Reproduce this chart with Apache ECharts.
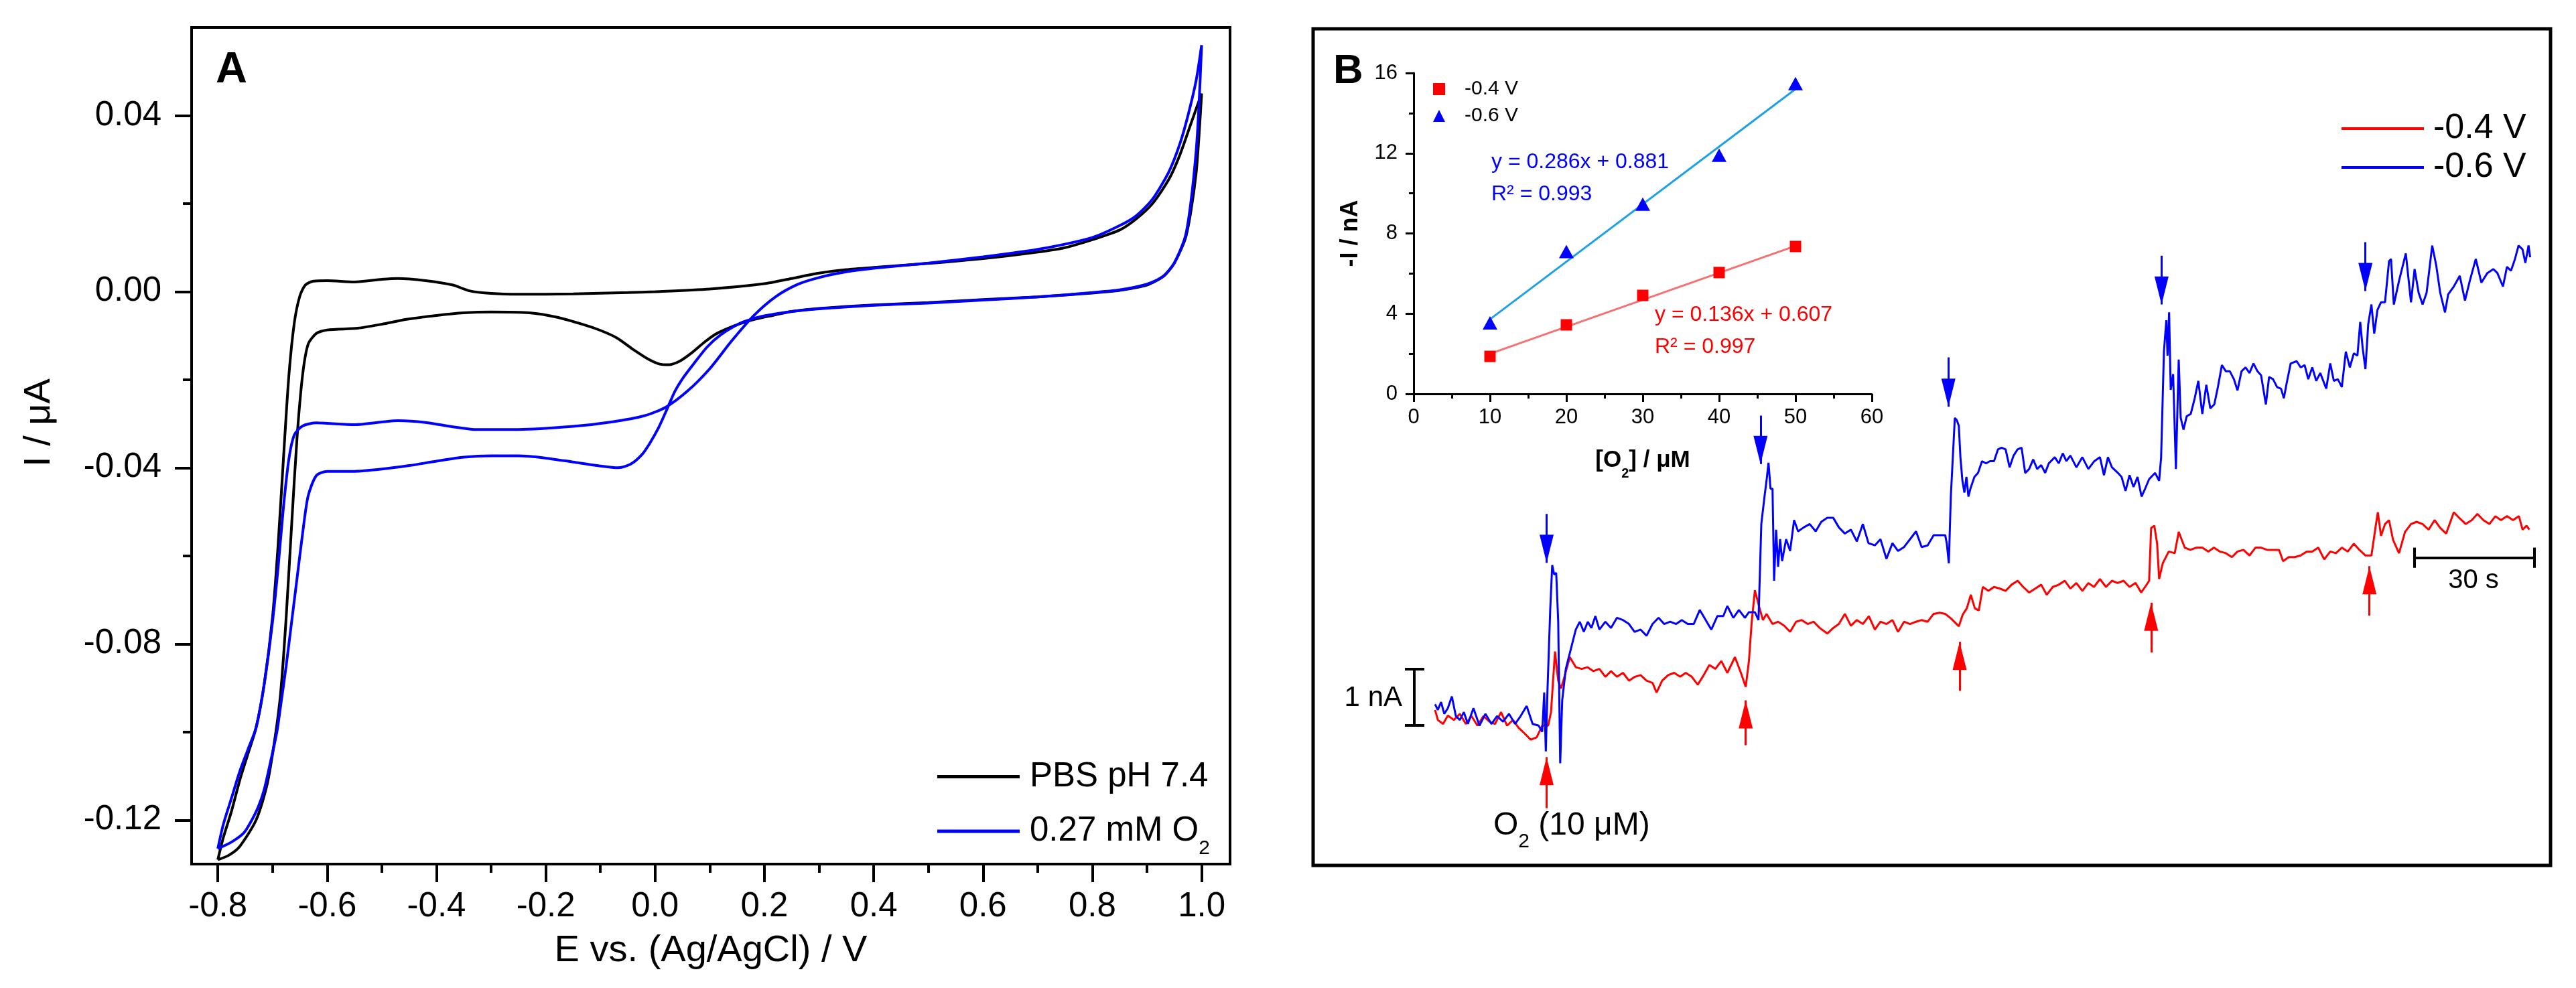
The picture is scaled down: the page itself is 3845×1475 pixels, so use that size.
<!DOCTYPE html>
<html>
<head>
<meta charset="utf-8">
<script src="https://cdn.jsdelivr.net/npm/echarts@6.0.0/dist/echarts.min.js"></script>
<style>
  html, body { margin: 0; padding: 0; background: #fff; }
  #container { width: 3845px; height: 1475px; }
</style>
</head>
<body>
<div id="container"></div>
<script>
// ---- panel A: cyclic voltammograms (E / V, I / uA) ----
var cvPbsForward = [[-0.80,-0.129],[-0.79,-0.124],[-0.775,-0.118],[-0.76,-0.111],[-0.745,-0.105],[-0.73,-0.099],[-0.715,-0.089],[-0.70,-0.074],[-0.69,-0.058],[-0.68,-0.038],[-0.67,-0.019],[-0.66,-0.007],[-0.65,-0.001],[-0.64,0.0015],[-0.625,0.0024],[-0.60,0.0025],[-0.55,0.0022],[-0.50,0.0028],[-0.47,0.003],[-0.42,0.0025],[-0.37,0.0015],[-0.34,0.0002],[-0.30,-0.0004],[-0.25,-0.0006],[-0.15,-0.0005],[-0.05,-0.0002],[0.0,0.0],[0.1,0.0006],[0.2,0.0018],[0.25,0.003],[0.3,0.0042],[0.35,0.005],[0.4,0.0055],[0.5,0.0064],[0.6,0.0075],[0.7,0.009],[0.75,0.010],[0.8,0.0118],[0.85,0.014],[0.88,0.0165],[0.91,0.020],[0.94,0.0255],[0.96,0.031],[0.98,0.038],[1.0,0.045]];
var cvPbsReverse = [[1.0,0.045],[0.995,0.035],[0.99,0.027],[0.98,0.018],[0.97,0.012],[0.95,0.0065],[0.93,0.0035],[0.9,0.0015],[0.85,0.0003],[0.8,-0.0003],[0.7,-0.0012],[0.6,-0.0018],[0.5,-0.0025],[0.4,-0.003],[0.3,-0.0038],[0.25,-0.0045],[0.215,-0.0054],[0.185,-0.0062],[0.155,-0.0073],[0.13,-0.0085],[0.11,-0.0097],[0.09,-0.0115],[0.066,-0.014],[0.045,-0.0158],[0.025,-0.0166],[0.01,-0.0165],[-0.01,-0.0155],[-0.038,-0.0133],[-0.07,-0.0105],[-0.1,-0.0088],[-0.128,-0.0076],[-0.18,-0.0058],[-0.23,-0.0048],[-0.3,-0.0046],[-0.35,-0.0048],[-0.4,-0.0054],[-0.455,-0.0063],[-0.5,-0.0074],[-0.544,-0.0083],[-0.6,-0.0087],[-0.62,-0.0095],[-0.635,-0.012],[-0.645,-0.019],[-0.655,-0.033],[-0.665,-0.053],[-0.675,-0.074],[-0.685,-0.091],[-0.695,-0.101],[-0.71,-0.112],[-0.73,-0.12],[-0.76,-0.126],[-0.78,-0.128],[-0.80,-0.129]];
var cvO2Forward = [[-0.80,-0.1265],[-0.79,-0.121],[-0.775,-0.115],[-0.76,-0.109],[-0.745,-0.104],[-0.73,-0.099],[-0.715,-0.089],[-0.70,-0.075],[-0.69,-0.063],[-0.68,-0.049],[-0.67,-0.038],[-0.66,-0.0325],[-0.645,-0.0305],[-0.62,-0.0298],[-0.6,-0.0299],[-0.55,-0.0302],[-0.5,-0.0296],[-0.47,-0.0293],[-0.42,-0.0297],[-0.37,-0.0307],[-0.33,-0.0313],[-0.25,-0.0313],[-0.15,-0.0306],[-0.08,-0.0296],[-0.02,-0.0282],[0.02,-0.0262],[0.06,-0.0225],[0.1,-0.0175],[0.14,-0.0112],[0.18,-0.0055],[0.22,-0.0012],[0.26,0.0016],[0.3,0.0032],[0.35,0.0045],[0.4,0.0053],[0.5,0.0065],[0.6,0.0079],[0.7,0.0096],[0.8,0.0123],[0.85,0.015],[0.88,0.0172],[0.91,0.021],[0.94,0.0272],[0.96,0.0335],[0.975,0.040],[0.99,0.048],[1.0,0.056]];
var cvO2Reverse = [[1.0,0.056],[0.995,0.042],[0.99,0.032],[0.98,0.02],[0.97,0.0125],[0.95,0.0065],[0.93,0.0035],[0.9,0.0017],[0.85,0.0004],[0.8,-0.0002],[0.7,-0.0012],[0.6,-0.0019],[0.5,-0.0026],[0.4,-0.0031],[0.3,-0.0039],[0.25,-0.0045],[0.2,-0.0055],[0.175,-0.0063],[0.155,-0.0072],[0.12,-0.0098],[0.095,-0.0126],[0.07,-0.0165],[0.05,-0.0198],[0.036,-0.0227],[0.02,-0.0272],[0.006,-0.031],[-0.01,-0.0345],[-0.024,-0.037],[-0.045,-0.0392],[-0.068,-0.040],[-0.1,-0.0396],[-0.15,-0.0387],[-0.2,-0.0378],[-0.25,-0.0373],[-0.3,-0.0373],[-0.35,-0.0376],[-0.4,-0.0385],[-0.45,-0.0395],[-0.5,-0.0403],[-0.55,-0.0408],[-0.6,-0.0408],[-0.62,-0.0418],[-0.635,-0.0465],[-0.645,-0.055],[-0.655,-0.065],[-0.665,-0.075],[-0.675,-0.085],[-0.685,-0.094],[-0.692,-0.1],[-0.704,-0.107],[-0.715,-0.113],[-0.726,-0.117],[-0.74,-0.1205],[-0.753,-0.123],[-0.775,-0.125],[-0.80,-0.1265]];

var xMajorTicks = [-0.8,-0.6,-0.4,-0.2,0,0.2,0.4,0.6,0.8,1.0];
var xMinorTicks = [-0.7,-0.5,-0.3,-0.1,0.1,0.3,0.5,0.7,0.9];
var yMajorTicks = [-0.12,-0.08,-0.04,0,0.04];
var yMinorTicks = [-0.1,-0.06,-0.02,0.02];

// ---- panel B: amperometric traces (t / s, -I / nA, relative) ----
var redTrace = [[0,0.27],[0.7,0.09],[2,0.02],[3.2,0.17],[4.7,0.09],[6.2,0.2],[7.7,0.02],[9.1,0.16],[10.6,-0.01],[12.1,0.16],[13.6,0.06],[15,0.02],[16.5,0.23],[18,-0.01],[19.5,0.09],[20.9,-0.05],[22.4,-0.15],[23.9,-0.26],[25.4,-0.22],[26.8,-0.01],[28.3,-0.01],[29,0.23],[30,1.31],[30.8,0.79],[31.5,0.65],[32.2,0.82],[33.7,1.21],[35.2,1.03],[36.7,1.0],[38.1,1.03],[39.6,0.96],[41.1,1.0],[42.6,0.86],[44,0.96],[45.5,0.86],[47,0.93],[48.5,0.79],[50,0.86],[51.4,0.89],[52.9,0.79],[54.4,0.75],[55.4,0.58],[56.8,0.79],[58.3,0.89],[59.8,0.93],[61.3,0.86],[62.7,0.93],[64.2,0.86],[65.7,0.72],[67.2,0.89],[68.6,1.07],[70.1,1.0],[71.6,1.14],[73.1,0.93],[75,1.21],[76.5,0.93],[77.7,0.68],[78.5,1.14],[79.2,1.84],[80,2.4],[81,2.12],[82,1.87],[82.9,1.98],[84.4,1.8],[85.8,1.84],[87.3,1.77],[88.8,1.66],[90.3,1.84],[91.7,1.87],[93.2,1.8],[94.7,1.84],[96.2,1.73],[98.1,1.63],[99.6,1.73],[101,1.8],[102.5,1.98],[104,1.77],[105.5,1.87],[107,1.8],[108.5,1.94],[110,1.7],[111.4,1.84],[112.9,1.8],[114.4,1.87],[115.8,1.66],[117.3,1.84],[118.8,1.8],[120.3,1.84],[121.7,1.87],[123.2,1.84],[124.7,1.98],[126.2,2.0],[127.6,1.98],[129,1.9],[131,1.76],[132,1.97],[133,2.08],[134,2.32],[135,2.08],[136,2.04],[137,2.46],[138.4,2.39],[139.8,2.46],[141.3,2.43],[142.7,2.39],[144.2,2.5],[145.7,2.57],[147.1,2.46],[148.6,2.36],[150.1,2.43],[151.6,2.5],[153,2.32],[154.5,2.46],[156,2.5],[157.5,2.57],[158.9,2.43],[160.4,2.53],[161.9,2.39],[163.4,2.53],[164.8,2.46],[166.3,2.6],[167.8,2.46],[169.3,2.57],[170.7,2.53],[172.2,2.57],[173.7,2.46],[175.2,2.53],[176.6,2.36],[177.6,2.46],[178.6,2.57],[179.1,3.51],[179.9,3.55],[180.6,3.23],[181.1,2.6],[182,2.88],[183.5,3.09],[185,3.06],[186,3.44],[187.5,3.16],[188.9,3.12],[190.4,3.16],[191.9,3.16],[193.4,3.09],[194.8,3.16],[196.3,3.09],[197.8,3.06],[199.3,2.99],[200.7,3.09],[202.2,3.12],[203.7,3.02],[205.2,3.16],[206.6,3.16],[208.1,3.12],[209.6,3.12],[211.1,3.12],[212.1,2.92],[213.5,2.99],[215,2.99],[216.5,3.02],[218,3.09],[219.4,3.09],[220.9,3.16],[222.4,2.95],[223.9,3.09],[225.3,3.06],[226.8,3.16],[228.3,3.09],[229.8,3.23],[231.2,3.12],[232.7,3.02],[234.2,3.02],[235.2,3.51],[235.8,3.79],[236.6,3.37],[237.6,3.58],[238.6,3.65],[239.6,3.3],[241.1,3.06],[242.6,3.44],[244.1,3.58],[245.5,3.62],[247,3.58],[248.5,3.48],[250,3.65],[251.4,3.51],[252.9,3.41],[254.8,3.79],[256.3,3.68],[257.8,3.58],[259.3,3.65],[260.7,3.76],[262.2,3.65],[263.7,3.58],[265.2,3.72],[266.6,3.65],[268.1,3.72],[269.6,3.65],[271.1,3.72],[272,3.48],[273,3.55],[273.7,3.48]];
var blueTrace = [[0,0.37],[0.7,0.27],[1.5,0.41],[2.3,0.2],[3.2,0.3],[4.2,0.51],[5.2,0.16],[6.2,0.09],[7.2,0.23],[8.2,0.02],[9.6,0.3],[11.1,-0.01],[12.6,0.2],[14.1,0.02],[15.5,0.16],[17,0.06],[18.5,0.2],[20,0.02],[21.4,0.16],[22.9,0.34],[24.4,0.02],[25.9,-0.01],[26.8,-0.12],[27.3,0.58],[27.7,-0.47],[28.1,0.58],[28.8,2.05],[29.3,2.85],[29.8,2.68],[30.3,2.71],[30.8,1.84],[31.3,-0.68],[31.8,0.44],[32.7,1.0],[33.7,1.28],[35.2,1.7],[36.2,1.84],[37.2,1.66],[38.2,1.84],[39.1,1.73],[40.1,1.94],[41.1,1.7],[42.6,1.84],[44,1.73],[45.5,1.91],[47,1.87],[48.5,1.8],[49.9,1.66],[51.4,1.7],[52.9,1.59],[54.4,1.8],[55.9,1.91],[57.3,1.8],[58.8,1.84],[60.3,1.8],[61.7,1.87],[63.2,1.8],[64.7,1.8],[66.2,2.05],[67.7,1.87],[69.1,1.7],[70.6,1.94],[72.1,1.94],[73.1,2.12],[74.6,1.91],[76,2.05],[77.5,1.91],[78.5,2.01],[80,2.01],[80.9,1.87],[81.6,3.58],[82.4,4.07],[82.9,4.35],[83.4,4.67],[83.9,4.21],[84.4,4.21],[84.8,2.57],[85.3,3.48],[85.8,2.82],[86.3,3.31],[86.8,2.92],[87.8,3.31],[88.8,3.1],[89.8,3.65],[90.8,3.45],[92.2,3.52],[93.7,3.58],[95.2,3.45],[96.6,3.62],[98.1,3.69],[99.6,3.69],[101,3.52],[102.5,3.41],[104,3.48],[105.5,3.27],[107,3.58],[108.4,3.24],[110,3.2],[111.4,3.31],[112.9,2.96],[114.4,3.24],[115.8,3.1],[117.3,3.17],[118.8,3.31],[120.3,3.45],[121.7,3.17],[123.2,3.2],[124.7,3.38],[126.2,3.38],[127.6,3.38],[128,3.23],[128.5,2.88],[129,4.07],[129.5,4.77],[130,5.47],[130.5,5.43],[131,5.33],[131.4,4.77],[131.9,4.35],[132.4,4.14],[132.9,4.42],[133.4,4.07],[133.9,4.21],[134.9,4.42],[135.8,4.49],[136.8,4.7],[137.8,4.66],[138.8,4.7],[139.8,4.7],[140.8,4.91],[141.7,4.94],[142.7,4.91],[143.7,4.59],[144.7,4.8],[145.7,4.91],[146.7,4.94],[147.6,4.49],[148.6,4.56],[149.6,4.73],[150.6,4.56],[151.6,4.63],[152.6,4.49],[153.5,4.66],[155,4.77],[156,4.66],[157,4.84],[157.9,4.7],[158.9,4.8],[160.4,4.59],[161.9,4.77],[163.4,4.56],[164.9,4.7],[166.3,4.77],[167.3,4.45],[168.3,4.77],[169.3,4.59],[170.8,4.49],[171.7,4.42],[172.7,4.17],[173.7,4.45],[174.7,4.24],[175.7,4.42],[176.7,4.07],[177.6,4.21],[178.6,4.38],[180.1,4.49],[181.1,4.35],[181.6,4.77],[182.3,6.65],[182.9,7.21],[183.2,6.58],[183.6,7.35],[184,5.97],[184.6,6.25],[185.3,4.56],[186,6.51],[186.5,5.47],[187.2,5.26],[188,5.5],[189,5.54],[190,5.82],[190.9,6.13],[191.9,5.54],[192.9,6.06],[193.9,5.64],[194.9,5.71],[195.8,6.02],[196.8,6.41],[197.8,6.3],[198.8,6.3],[199.8,6.16],[200.7,5.96],[201.7,6.3],[202.7,6.37],[203.7,6.27],[204.7,6.44],[205.7,6.3],[206.6,6.23],[207.8,5.71],[208.6,6.2],[209.6,6.16],[210.6,6.02],[211.6,5.99],[212.3,5.82],[213,6.09],[214,6.44],[215.5,6.48],[216.5,6.37],[217.5,6.41],[218.4,6.16],[219.4,6.37],[220.4,6.13],[221.4,6.27],[222.9,5.99],[223.9,6.44],[224.8,6.13],[225.8,6.16],[226.8,6.02],[227.8,6.65],[228.8,6.37],[229.8,6.62],[230.7,6.58],[231.4,7.18],[232,6.72],[232.7,6.34],[233.4,7.14],[234.2,7.49],[234.9,6.97],[235.7,7.39],[236.6,7.53],[237.6,7.53],[238.6,8.26],[239.1,8.3],[239.8,7.49],[241.1,7.91],[242.8,8.4],[244.1,7.53],[245,8.12],[246,7.7],[247,7.49],[248,7.7],[249.4,8.54],[250.4,8.19],[251.4,7.7],[252.6,7.35],[253.4,7.67],[254.8,7.81],[256.3,8.0],[257.6,7.56],[258.8,7.91],[260.3,8.3],[261.7,7.88],[263.2,8.05],[264.7,8.12],[265.7,8.05],[267.1,7.81],[268.1,8.16],[269.1,8.09],[270.1,8.3],[271,8.54],[272,8.47],[272.7,8.23],[273.5,8.54],[273.9,8.33]];

// injection arrows (t / s, nA)
var redArrowT = [27.9, 77.7, 131.2, 179.1, 233.7];
var redArrowTip = [-0.57, 0.44, 1.48, 2.18, 2.83];
var redArrowTail = [-1.48, -0.36, 0.61, 1.29, 1.95];
var blueArrowT = [27.9, 81.4, 128.4, 181.7, 232.7];
var blueArrowTail = [3.76, 5.51, 6.55, 8.36, 8.6];
var blueArrowTip = [2.89, 4.65, 5.67, 7.49, 7.73];

// scale bars
var nABarT = -5.19, nABarCapT = [-7.54, -2.68], nABarI = [0, 1];
var secBarT = [244.9, 274.9], secBarI = 2.98, secBarCap = 0.18;

// ---- inset: calibration ----
var o2Conc = [10, 20, 30, 40, 50];
var calibRed = [1.87, 3.44, 4.91, 6.05, 7.35];
var calibBlue = [3.54, 7.1, 9.46, 11.9, 15.47];
var fitRed = [[10, 2.0], [50, 7.38]];
var fitBlue = [[10, 3.72], [50, 15.2]];

var FONT = 'Liberation Sans';
var dom = document.getElementById('container');
var myChart = echarts.init(dom);

function pairs(xs, ys) {
    return xs.map(function (x, i) { return [x, ys[i]]; });
}
function shafts(ts, a, b) {
    return ts.map(function (t, i) { return { coords: [[t, a[i]], [t, b[i]]] }; });
}
var headOffset = 0.25;
var scaleBars = [
    { coords: [[nABarT, nABarI[0]], [nABarT, nABarI[1]]] },
    { coords: [[nABarCapT[0], nABarI[0]], [nABarCapT[1], nABarI[0]]] },
    { coords: [[nABarCapT[0], nABarI[1]], [nABarCapT[1], nABarI[1]]] },
    { coords: [[secBarT[0], secBarI], [secBarT[1], secBarI]] },
    { coords: [[secBarT[0], secBarI - secBarCap], [secBarT[0], secBarI + secBarCap]] },
    { coords: [[secBarT[1], secBarI - secBarCap], [secBarT[1], secBarI + secBarCap]] }
];

var option = {
    animation: false,
    backgroundColor: '#fff',
    textStyle: { fontFamily: FONT, color: '#000' },
    grid: [
        { left: 286, top: 41, width: 1550, height: 1249, show: true, borderColor: '#000', borderWidth: 4, backgroundColor: 'transparent' },
        { left: 1960, top: 43, width: 1847, height: 1249, show: true, borderColor: '#000', borderWidth: 5, backgroundColor: 'transparent' },
        { left: 2110, top: 109, width: 684, height: 479 }
    ],
    xAxis: [
        {
            gridIndex: 0, type: 'value', min: -0.848, max: 1.052,
            axisLine: { onZero: false, lineStyle: { color: '#000', width: 4 } },
            axisTick: { customValues: xMajorTicks, length: 27, lineStyle: { color: '#000', width: 4 } },
            axisLabel: { customValues: xMajorTicks, formatter: function (v) { return v.toFixed(1); }, fontSize: 51, color: '#000', margin: 38, fontFamily: FONT },
            splitLine: { show: false },
            name: 'E vs. (Ag/AgCl) / V', nameLocation: 'middle', nameGap: 102,
            nameTextStyle: { fontSize: 56, color: '#000', fontFamily: FONT }
        },
        {
            gridIndex: 0, type: 'value', min: -0.848, max: 1.052, position: 'bottom',
            axisLine: { show: false, onZero: false },
            axisTick: { customValues: xMinorTicks, length: 13, lineStyle: { color: '#000', width: 4 } },
            axisLabel: { show: false }, splitLine: { show: false }
        },
        { gridIndex: 1, type: 'value', min: -30.5, max: 279, show: false },
        {
            gridIndex: 2, type: 'value', min: 0, max: 60, interval: 10,
            axisLine: { onZero: false, lineStyle: { color: '#000', width: 3 } },
            axisTick: { length: 12, lineStyle: { color: '#000', width: 3 } },
            minorTick: { show: true, splitNumber: 2, length: 7, lineStyle: { color: '#000', width: 3 } },
            axisLabel: { fontSize: 31, color: '#000', margin: 20, fontFamily: FONT },
            splitLine: { show: false },
            name: '[O{sub|2}] / μM', nameLocation: 'middle', nameGap: 82,
            nameTextStyle: { fontSize: 35, fontWeight: 'bold', lineHeight: 35, color: '#000', fontFamily: FONT,
                rich: { sub: { fontSize: 20, fontWeight: 'bold', lineHeight: 35, padding: [40, 0, 0, 0], fontFamily: FONT } } }
        }
    ],
    yAxis: [
        {
            gridIndex: 0, type: 'value', min: -0.13, max: 0.06,
            axisLine: { onZero: false, lineStyle: { color: '#000', width: 4 } },
            axisTick: { customValues: yMajorTicks, length: 25, lineStyle: { color: '#000', width: 4 } },
            axisLabel: { customValues: yMajorTicks, formatter: function (v) { return v.toFixed(2); }, fontSize: 51, color: '#000', margin: 45, fontFamily: FONT },
            splitLine: { show: false }
        },
        {
            gridIndex: 0, type: 'value', min: -0.13, max: 0.06, position: 'left',
            axisLine: { show: false, onZero: false },
            axisTick: { customValues: yMinorTicks, length: 13, lineStyle: { color: '#000', width: 4 } },
            axisLabel: { show: false }, splitLine: { show: false }
        },
        { gridIndex: 1, type: 'value', min: -2.5, max: 12.4, show: false },
        {
            gridIndex: 2, type: 'value', min: 0, max: 16, interval: 4,
            axisLine: { onZero: false, lineStyle: { color: '#000', width: 3 } },
            axisTick: { length: 12, lineStyle: { color: '#000', width: 3 } },
            minorTick: { show: true, splitNumber: 2, length: 7, lineStyle: { color: '#000', width: 3 } },
            axisLabel: { fontSize: 31, color: '#000', margin: 24, fontFamily: FONT },
            splitLine: { show: false },
            name: '-I / nA', nameLocation: 'middle', nameGap: 76,
            nameTextStyle: { fontSize: 36, fontWeight: 'bold', color: '#000', fontFamily: FONT }
        }
    ],
    legend: [
        {
            left: 1399, top: 1134, orient: 'vertical', padding: 0,
            itemWidth: 123, itemHeight: 5, itemGap: 15, icon: 'rect', symbolKeepAspect: false,
            textStyle: { fontSize: 51, lineHeight: 51, color: '#000', fontFamily: FONT, padding: [0, 0, 0, 10],
                rich: { sub: { fontSize: 30, lineHeight: 51, padding: [52, 0, 0, 0], fontFamily: FONT } } },
            formatter: function (name) { return name === '0.27 mM O2' ? '0.27 mM O{sub|2}' : name; },
            data: ['PBS pH 7.4', '0.27 mM O2']
        },
        {
            left: 3495, top: 166, orient: 'vertical', padding: 0,
            itemWidth: 123, itemHeight: 4, itemGap: 6, symbolKeepAspect: false,
            textStyle: { fontSize: 52, lineHeight: 52, color: '#000', fontFamily: FONT, padding: [0, 0, 0, 9] },
            data: [{ name: '-0.4 V', icon: 'rect' }, { name: '-0.6 V', icon: 'rect' }]
        },
        {
            left: 2139, top: 118, orient: 'vertical', padding: 0,
            itemWidth: 18, itemHeight: 18, itemGap: 10, symbolKeepAspect: false,
            textStyle: { fontSize: 30, lineHeight: 30, color: '#000', fontFamily: FONT, padding: [0, 0, 0, 24] },
            data: [{ name: '-0.4 V', icon: 'rect' }, { name: '-0.6 V', icon: 'triangle' }]
        }
    ],
    graphic: [
        { type: 'text', x: 322, y: 105, style: { text: 'A', fontSize: 65, fontWeight: 'bold', fontFamily: FONT, fill: '#000', align: 'left', verticalAlign: 'middle', textAlign: 'left', textVerticalAlign: 'middle' } },
        { type: 'text', x: 59, y: 631, rotation: Math.PI / 2, style: { text: 'I / μA', fontSize: 56, fontFamily: FONT, fill: '#000', align: 'center', verticalAlign: 'middle', textAlign: 'center', textVerticalAlign: 'middle' } },
        { type: 'text', x: 1990, y: 107, style: { text: 'B', fontSize: 62, fontWeight: 'bold', fontFamily: FONT, fill: '#000', align: 'left', verticalAlign: 'middle', textAlign: 'left', textVerticalAlign: 'middle' } },
        { type: 'text', x: 2226, y: 242, style: { text: 'y = 0.286x + 0.881', fontSize: 32, fontFamily: FONT, fill: '#0000ff', align: 'left', verticalAlign: 'middle', textAlign: 'left', textVerticalAlign: 'middle' } },
        { type: 'text', x: 2226, y: 290, style: { text: 'R² = 0.993', fontSize: 32, fontFamily: FONT, fill: '#0000ff', align: 'left', verticalAlign: 'middle', textAlign: 'left', textVerticalAlign: 'middle' } },
        { type: 'text', x: 2470, y: 470, style: { text: 'y = 0.136x + 0.607', fontSize: 32, fontFamily: FONT, fill: '#ff0000', align: 'left', verticalAlign: 'middle', textAlign: 'left', textVerticalAlign: 'middle' } },
        { type: 'text', x: 2470, y: 518, style: { text: 'R² = 0.997', fontSize: 32, fontFamily: FONT, fill: '#ff0000', align: 'left', verticalAlign: 'middle', textAlign: 'left', textVerticalAlign: 'middle' } },
        { type: 'text', x: 2229, y: 1233, style: { text: 'O{sub|2} (10 μM)', fontSize: 48, lineHeight: 48, fontFamily: FONT, fill: '#000', align: 'left', verticalAlign: 'middle', textAlign: 'left', textVerticalAlign: 'middle',
            rich: { sub: { fontSize: 30, lineHeight: 48, padding: [47, 0, 0, 0], fontFamily: FONT, fill: '#000' } } } },
        { type: 'text', x: 2093, y: 1042, style: { text: '1 nA', fontSize: 42, fontFamily: FONT, fill: '#000', align: 'right', verticalAlign: 'middle', textAlign: 'right', textVerticalAlign: 'middle' } },
        { type: 'text', x: 3692, y: 867, style: { text: '30 s', fontSize: 40, fontFamily: FONT, fill: '#000', align: 'center', verticalAlign: 'middle', textAlign: 'center', textVerticalAlign: 'middle' } }
    ],
    series: [
        {
            name: 'PBS pH 7.4', type: 'line', xAxisIndex: 0, yAxisIndex: 0,
            data: cvPbsForward.concat(cvPbsReverse.slice(1)),
            showSymbol: false, symbol: 'none', smooth: 0.25,
            lineStyle: { color: '#000', width: 4 }, itemStyle: { color: '#000' }
        },
        {
            name: '0.27 mM O2', type: 'line', xAxisIndex: 0, yAxisIndex: 0,
            data: cvO2Forward.concat(cvO2Reverse.slice(1)),
            showSymbol: false, symbol: 'none', smooth: 0.25,
            lineStyle: { color: '#0000ff', width: 4 }, itemStyle: { color: '#0000ff' }
        },
        {
            name: '-0.4 V', type: 'line', xAxisIndex: 2, yAxisIndex: 2, data: redTrace,
            showSymbol: false, symbol: 'none',
            lineStyle: { color: '#ff0000', width: 3 }, itemStyle: { color: '#ff0000' }
        },
        {
            name: '-0.6 V', type: 'line', xAxisIndex: 2, yAxisIndex: 2, data: blueTrace,
            showSymbol: false, symbol: 'none',
            lineStyle: { color: '#0000ff', width: 3 }, itemStyle: { color: '#0000ff' }
        },
        {
            type: 'lines', coordinateSystem: 'cartesian2d', xAxisIndex: 2, yAxisIndex: 2,
            data: scaleBars, symbol: 'none',
            lineStyle: { color: '#000', width: 4, opacity: 1, curveness: 0 }
        },
        {
            type: 'lines', coordinateSystem: 'cartesian2d', xAxisIndex: 2, yAxisIndex: 2,
            data: shafts(redArrowT, redArrowTail, redArrowTip), symbol: 'none',
            lineStyle: { color: '#ff0000', width: 3, opacity: 1, curveness: 0 }
        },
        {
            type: 'lines', coordinateSystem: 'cartesian2d', xAxisIndex: 2, yAxisIndex: 2,
            data: shafts(blueArrowT, blueArrowTail, blueArrowTip), symbol: 'none',
            lineStyle: { color: '#0000ff', width: 3, opacity: 1, curveness: 0 }
        },
        {
            type: 'scatter', xAxisIndex: 2, yAxisIndex: 2, symbol: 'triangle', symbolSize: [21, 42],
            data: pairs(redArrowT, redArrowTip.map(function (v) { return v - headOffset; })),
            itemStyle: { color: '#ff0000', opacity: 1 }, z: 5
        },
        {
            type: 'scatter', xAxisIndex: 2, yAxisIndex: 2, symbol: 'triangle', symbolSize: [21, 42], symbolRotate: 180,
            data: pairs(blueArrowT, blueArrowTip.map(function (v) { return v + headOffset; })),
            itemStyle: { color: '#0000ff', opacity: 1 }, z: 5
        },
        {
            type: 'line', xAxisIndex: 3, yAxisIndex: 3, data: fitRed, showSymbol: false, symbol: 'none',
            lineStyle: { color: '#f47272', width: 3 }
        },
        {
            type: 'line', xAxisIndex: 3, yAxisIndex: 3, data: fitBlue, showSymbol: false, symbol: 'none',
            lineStyle: { color: '#1ea0e8', width: 3 }
        },
        {
            name: '-0.4 V', type: 'scatter', xAxisIndex: 3, yAxisIndex: 3, symbol: 'rect', symbolSize: 17,
            data: pairs(o2Conc, calibRed), itemStyle: { color: '#ff0000', opacity: 1 }, z: 6
        },
        {
            name: '-0.6 V', type: 'scatter', xAxisIndex: 3, yAxisIndex: 3, symbol: 'triangle', symbolSize: [22, 20],
            data: pairs(o2Conc, calibBlue), itemStyle: { color: '#0000ff', opacity: 1 }, z: 6
        }
    ]
};

if (option && typeof option === 'object') {
    myChart.setOption(option, true);
}
</script>
</body>
</html>
